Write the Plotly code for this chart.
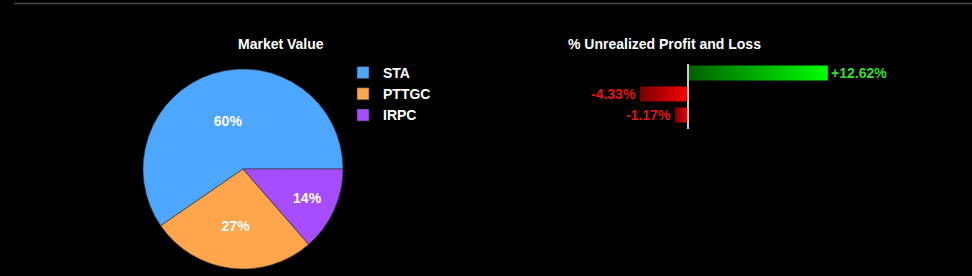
import plotly.graph_objects as go

# ---- data ----
pie_labels = ["STA", "PTTGC", "IRPC"]
pie_values = [59.6, 26.8, 13.6]
pie_colors = ["#4da6ff", "#ffa64d", "#a64dff"]

pl_symbols = ["STA", "PTTGC", "IRPC"]
pl_values = [12.62, -4.33, -1.17]

W, H = 972, 276
FONT = "Liberation Sans, Arial, sans-serif"


def px(x):
    return x / W


def py(y):
    return (H - y) / H


fig = go.Figure()

fig.add_trace(go.Pie(
    labels=pie_labels, values=pie_values, sort=False,
    direction="counterclockwise", rotation=235.4,
    marker=dict(colors=pie_colors, line=dict(color="#333333", width=0.6)),
    texttemplate="%{percent:.0%}", textposition="inside",
    insidetextfont=dict(color="white", size=14, family=FONT, weight="bold"),
    domain=dict(x=[px(143), px(343)], y=[py(269), py(69)]),
    hoverinfo="skip", showlegend=True,
))

half = 0.357
for i, v in enumerate(pl_values):
    if v >= 0:
        cs = [[0, "#006000"], [1, "#00ff00"]]
    else:
        cs = [[0, "#780000"], [1, "#ff0000"]]
    fig.add_trace(go.Scatter(
        x=[0, v, v, 0, 0], y=[i - half, i - half, i + half, i + half, i - half],
        mode="lines", line=dict(width=0), fill="toself",
        fillgradient=dict(type="horizontal", colorscale=cs),
        xaxis="x", yaxis="y", showlegend=False, hoverinfo="skip",
    ))

annotations = [
    dict(text="Market Value", xref="paper", yref="paper", x=px(281), y=py(44),
         xanchor="center", yanchor="middle", showarrow=False,
         font=dict(size=14, color="white", family=FONT, weight="bold")),
    dict(text="% Unrealized Profit and Loss", xref="paper", yref="paper", x=px(566), y=py(44),
         xanchor="left", yanchor="middle", showarrow=False,
         font=dict(size=14, color="white", family=FONT, weight="bold")),
]
for i, v in enumerate(pl_values):
    if v >= 0:
        annotations.append(dict(
            text="+%.2f%%" % v, x=v, y=i, xref="x", yref="y", xanchor="left", yanchor="middle",
            xshift=1, showarrow=False,
            font=dict(size=14, color="#33dd33", family=FONT, weight="bold")))
    else:
        annotations.append(dict(
            text="%.2f%%" % v, x=v, y=i, xref="x", yref="y", xanchor="right", yanchor="middle",
            xshift=-2, showarrow=False,
            font=dict(size=14, color="#e01414", family=FONT, weight="bold")))

fig.update_layout(
    width=W, height=H, margin=dict(l=0, r=0, t=0, b=0),
    paper_bgcolor="#000000", plot_bgcolor="rgba(0,0,0,0)",
    font=dict(family=FONT, color="white"),
    xaxis=dict(domain=[px(599.4), px(887.4)], range=[-8, 18], visible=False, fixedrange=True),
    yaxis=dict(domain=[py(125.5), py(62.5)], range=[2.5, -0.5], visible=False, fixedrange=True),
    legend=dict(x=px(343), y=py(57), xanchor="left", yanchor="top",
                font=dict(size=14, color="white", family=FONT, weight="bold"),
                bgcolor="rgba(0,0,0,0)", itemclick=False, itemdoubleclick=False),
    shapes=[
        dict(type="line", xref="paper", yref="paper", x0=px(14), x1=1, y0=py(3.5), y1=py(3.5),
             line=dict(color="#4a4a4a", width=1.5)),
        dict(type="line", xref="x", yref="paper", x0=0, x1=0, y0=py(129), y1=py(64),
             line=dict(color="#cccccc", width=2)),
    ],
    annotations=annotations,
)

fig.write_html("out.html")
